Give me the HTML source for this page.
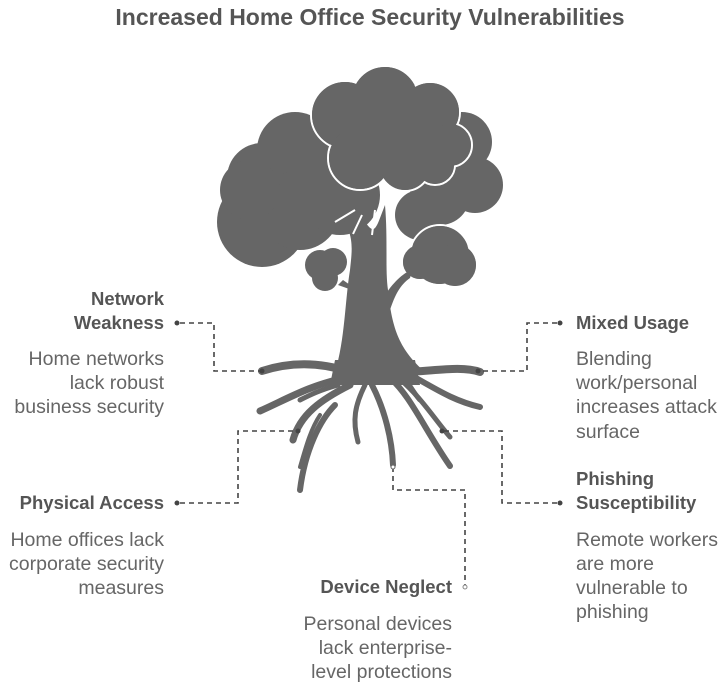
<!DOCTYPE html>
<html><head><meta charset="utf-8"><style>
html,body{margin:0;padding:0;background:#fff;}
svg{display:block;}
text{font-family:"Liberation Sans",Arial,sans-serif;}
.h{font-size:18.5px;font-weight:bold;fill:#555;}
.b{font-size:19.5px;fill:#666;}
.d{stroke:#444;stroke-width:1.6;stroke-dasharray:5,4;fill:none;}
.r{stroke:#666;fill:none;stroke-linecap:round;}
</style></head><body>
<svg width="723" height="684" viewBox="0 0 723 684">
<text x="370" y="25" text-anchor="middle" style="font-size:23px;font-weight:bold;fill:#555">Increased Home Office Security Vulnerabilities</text>
<g fill="#666">
<circle cx="262" cy="222" r="45"/><circle cx="262" cy="178" r="35"/><circle cx="295" cy="150" r="38"/><circle cx="330" cy="155" r="30"/>
<circle cx="300" cy="210" r="40"/><circle cx="340" cy="195" r="40"/><circle cx="250" cy="190" r="30"/>
<circle cx="462" cy="142" r="30"/><circle cx="475" cy="185" r="28"/><circle cx="440" cy="195" r="30"/><circle cx="420" cy="215" r="25"/>
<g stroke="#fff" stroke-width="2"><circle cx="345" cy="115" r="34"/><circle cx="385" cy="100" r="34"/><circle cx="430" cy="112" r="30"/><circle cx="450" cy="145" r="22"/><circle cx="360" cy="158" r="32"/><circle cx="405" cy="165" r="26"/><circle cx="435" cy="165" r="20"/></g>
<circle cx="345" cy="115" r="33"/><circle cx="385" cy="100" r="33"/><circle cx="430" cy="112" r="29"/><circle cx="450" cy="145" r="21"/><circle cx="360" cy="158" r="31"/><circle cx="405" cy="165" r="25"/><circle cx="435" cy="165" r="19"/><rect x="345" y="110" width="90" height="60"/>
<circle cx="320" cy="265" r="15"/><circle cx="333" cy="262" r="14"/><circle cx="325" cy="278" r="13"/>
<g stroke="#fff" stroke-width="2"><circle cx="440" cy="255" r="30"/><circle cx="420" cy="262" r="18"/><circle cx="455" cy="265" r="22"/></g>
<circle cx="440" cy="255" r="29"/><circle cx="420" cy="262" r="17"/><circle cx="455" cy="265" r="21"/>
<path d="M335 372 C345 340 345 300 350 270 C352 250 355 235 340 215 L355 210 C370 225 372 240 380 218 L385 205 C388 240 385 270 388 290 C392 330 400 350 425 372 Z"/>
<path d="M352 290 L338 285 L343 280 L360 292 Z"/><path d="M385 295 C395 280 405 272 412 270 L410 278 C400 285 395 295 390 310 Z"/>
</g>
<g stroke="#fff" stroke-width="2" fill="none"><path d="M355 210 L335 222 M375 210 L372 235 M362 215 L353 234"/></g>
<g class="r">
<path d="M350 372 C320 362 290 362 262 371" stroke-width="8"/>
<path d="M345 378 C310 385 285 400 260 411" stroke-width="7"/>
<path d="M338 385 C320 390 310 395 300 400" stroke-width="5"/>
<path d="M350 385 C320 400 300 415 293 440" stroke-width="7"/>
<path d="M335 405 C320 420 305 450 300 490" stroke-width="6"/>
<path d="M320 415 C310 430 305 450 300 467" stroke-width="4"/>
<path d="M365 385 C355 405 352 420 358 442" stroke-width="5"/>
<path d="M372 385 C385 410 392 440 393 465" stroke-width="6"/>
<path d="M390 378 C410 395 425 430 450 466" stroke-width="6"/>
<path d="M395 375 C420 395 435 420 450 437" stroke-width="5"/>
<path d="M400 372 C430 372 460 365 480 372" stroke-width="8"/>
<path d="M405 372 C430 385 450 400 480 407" stroke-width="6"/>
<path d="M400 372 C410 385 415 395 420 400" stroke-width="5"/>
</g>
<path fill="#666" d="M335 360 L415 360 L420 385 L330 385 Z"/>
<path class="d" d="M180 323 H214 V371 H262"/>
<path class="d" d="M557 323 H527 V371 H478"/>
<path class="d" d="M180 503 H238 V431 H298"/>
<path class="d" d="M557 503 H502 V431 H442"/>
<path class="d" d="M393 467 V490 H465 V587"/>
<g fill="#444"><circle cx="177" cy="323" r="2.5"/><circle cx="560" cy="323" r="2.5"/><circle cx="177" cy="503" r="2.5"/><circle cx="560" cy="503" r="2.5"/><circle cx="262" cy="371" r="2.5"/><circle cx="478" cy="371" r="2.5"/><circle cx="298" cy="431" r="2.5"/><circle cx="442" cy="431" r="2.5"/></g>
<circle cx="393" cy="467" r="2" fill="#fff" stroke="#666"/><circle cx="465" cy="587" r="2" fill="#fff" stroke="#888"/>
<g text-anchor="end">
<text class="h" x="164" y="305">Network</text><text class="h" x="164" y="329">Weakness</text>
<text class="b" x="164" y="365">Home networks</text><text class="b" x="164" y="389">lack robust</text><text class="b" x="164" y="413">business security</text>
<text class="h" x="164" y="509">Physical Access</text>
<text class="b" x="164" y="546">Home offices lack</text><text class="b" x="164" y="570">corporate security</text><text class="b" x="164" y="594">measures</text>
<text class="h" x="452" y="593">Device Neglect</text>
<text class="b" x="452" y="630">Personal devices</text><text class="b" x="452" y="654">lack enterprise-</text><text class="b" x="452" y="678">level protections</text>
</g>
<text class="h" x="576" y="329">Mixed Usage</text>
<text class="b" x="576" y="365">Blending</text><text class="b" x="576" y="389">work/personal</text><text class="b" x="576" y="413">increases attack</text><text class="b" x="576" y="438">surface</text>
<text class="h" x="576" y="485">Phishing</text><text class="h" x="576" y="509">Susceptibility</text>
<text class="b" x="576" y="546">Remote workers</text><text class="b" x="576" y="570">are more</text><text class="b" x="576" y="594">vulnerable to</text><text class="b" x="576" y="618">phishing</text>
</svg>
</body></html>
